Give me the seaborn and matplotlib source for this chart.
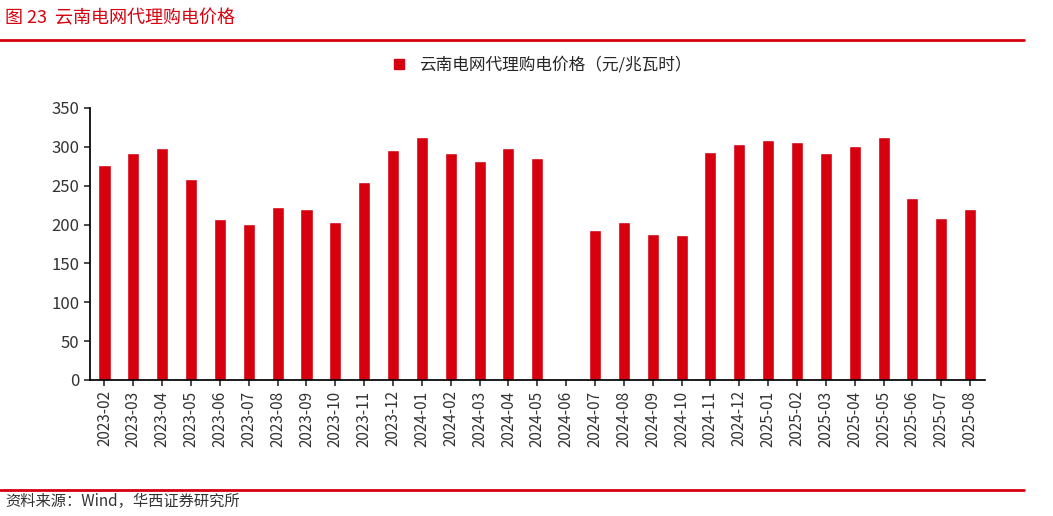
import matplotlib
matplotlib.use("Agg")
import matplotlib.pyplot as plt
import seaborn as sns
import numpy as np
import pandas as pd
from matplotlib.lines import Line2D

sns.set_theme(style="ticks")
plt.rcParams['font.family'] = ['Noto Sans CJK SC', 'DejaVu Sans']

months = ["2023-02","2023-03","2023-04","2023-05","2023-06","2023-07","2023-08","2023-09","2023-10","2023-11","2023-12",
          "2024-01","2024-02","2024-03","2024-04","2024-05","2024-06","2024-07","2024-08","2024-09","2024-10","2024-11","2024-12",
          "2025-01","2025-02","2025-03","2025-04","2025-05","2025-06","2025-07","2025-08"]
prices = [277,292,298,259,207,201,222,220,203,255,296,
          313,292,282,298,286,np.nan,193,203,188,186,294,304,
          309,306,292,301,313,234,209,220]
yticks = [0,50,100,150,200,250,300,350]

red = "#D7000F"
fig = plt.figure(figsize=(10.53,5.16), dpi=100)
ax = fig.add_axes([0.0855,0.2636,0.8495,0.5271])
df = pd.DataFrame({"m":months,"v":prices})
sns.barplot(data=df, x="m", y="v", color=red, width=0.42, saturation=1, ax=ax)
ax.set_ylim(0,350)
ax.set_yticks(yticks)
ax.set_xlim(-0.5,len(months)-0.5)
ax.set_xlabel(""); ax.set_ylabel("")
ax.tick_params(axis='x', rotation=90, labelsize=11, colors="#333333", length=4, direction='out')
ax.tick_params(axis='y', labelsize=12, colors="#333333", length=4, direction='out')
for s in ["top","right"]:
    ax.spines[s].set_visible(False)
for s in ["left","bottom"]:
    ax.spines[s].set_color("black")
ax.legend(handles=[Line2D([],[],marker='s',linestyle='',color=red,markersize=7)],
          labels=["云南电网代理购电价格（元/兆瓦时）"], loc="lower center",
          bbox_to_anchor=(0.5,1.07), frameon=False, fontsize=12, handletextpad=0.2)

fig.text(0.005,0.965,"图 23  云南电网代理购电价格", fontsize=13, color=red, va="center")
fig.add_artist(Line2D([0,0.972],[0.922,0.922], color=red, lw=2))
fig.add_artist(Line2D([0,0.972],[0.05,0.05], color=red, lw=2))
fig.text(0.005,0.028,"资料来源：Wind，华西证券研究所", fontsize=11, color="#333333", va="center")
fig.savefig("out.png", dpi=100)
